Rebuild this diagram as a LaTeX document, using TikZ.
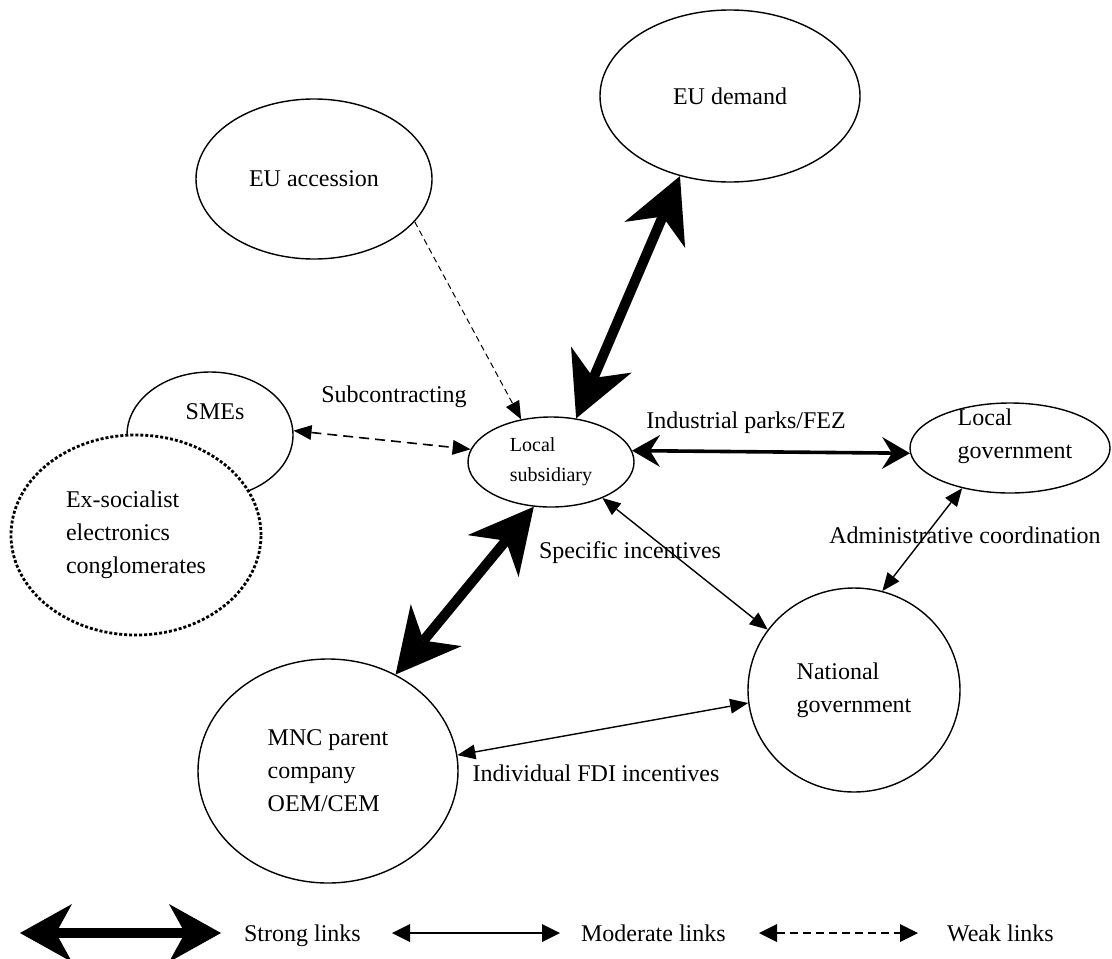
\documentclass[tikz,border=0pt]{standalone}
\usepackage{fontspec}
\setmainfont{Liberation Serif}
\usepackage{tikz}
\usetikzlibrary{arrows.meta, shapes.geometric}

\begin{document}
\begin{tikzpicture}[
        x=0.5pt, y=-0.5pt,
        every node/.style={font=\fontsize{12}{16.5}\selectfont},
        actor/.style={draw, ellipse, line width=0.7pt, inner sep=1pt, align=left},
        small/.style={font=\fontsize{10}{15}\selectfont},
        keytext/.style={anchor=base west},
        bigtip/.tip={Stealth[length=32pt, width=33pt, inset=10pt, line width=0pt]},
        keytip/.tip={Stealth[length=26pt, width=29pt, inset=8pt, line width=0pt]},
        midtip/.tip={Stealth[length=14pt, width=16pt, inset=5pt, line width=0pt]},
        tritip/.tip={Triangle[length=9pt, width=7.5pt, line width=0pt]},
        keytri/.tip={Triangle[length=9pt, width=9pt, line width=0pt]},
        stronglink/.style={line width=5pt, bigtip-bigtip},
        parklink/.style={line width=1.8pt, midtip-midtip},
        modlink/.style={line width=0.7pt, tritip-tritip},
        weaklink/.style={line width=0.8pt, dash pattern=on 5pt off 3pt, tritip-tritip},
      ]
      \useasboundingbox (0,0) rectangle (1112,958);

      % actors
      \node[actor, minimum width=130pt, minimum height=86pt] (eud) at (730,96) {EU demand};
      \node[actor, minimum width=118pt, minimum height=80pt] (eua) at (314,179) {EU accession};
      \node[actor, minimum width=83pt, minimum height=63pt,
            label={[xshift=2.5pt, yshift=11.5pt]center:SMEs}] (sme) at (210,435) {};
      \node[actor, fill=white, line width=1.4pt, dash pattern=on 1.5pt off 1pt,
            minimum width=125pt, minimum height=100pt] (exs) at (136,535)
            {Ex-socialist\\electronics\\conglomerates};
      \node[actor, small, minimum width=83pt, minimum height=45pt] (ls) at (551,462)
            {Local\\subsidiary};
      \node[actor, minimum width=100pt, minimum height=45pt,
            label={[xshift=2.5pt, yshift=6pt, align=left]center:Local\\government}] (lg) at (1010,448) {};
      \node[actor, minimum width=106pt, minimum height=102pt] (ng) at (854,690)
            {National\\government};
      \node[actor, minimum width=130pt, minimum height=112pt] (mnc) at (328,771)
            {MNC parent\\company\\OEM/CEM};

      % links
      \draw[line width=0.5pt, dash pattern=on 3pt off 2pt, -tritip] (eua.-23) -- (ls.125);
      \draw[stronglink] (ls.60) -- (eud.-122);
      \draw[stronglink] (ls.-111) -- (mnc.55);
      \draw[weaklink] (sme.3) -- (ls.171);
      \draw[parklink] (ls.8) -- (lg.183);
      \draw[modlink] (ls.-35) -- (ng.145);
      \draw[modlink] (lg.-140) -- (ng.74);
      \draw[modlink] (mnc.7) -- (ng.187);

      % link labels
      \node (subc) at (394,397) {Subcontracting};
      \node (park) at (746,423) {Industrial parks/FEZ};
      \node (spec) at (630,553) {Specific incentives};
      \node (admin) at (965,535) {Administrative coordination};
      \node (fdi) at (596,773) {Individual FDI incentives};

      % key
      \coordinate (k1a) at (20,933);  \coordinate (k1b) at (221,933);
      \coordinate (k2a) at (392,933); \coordinate (k2b) at (560,933);
      \coordinate (k3a) at (759,933); \coordinate (k3b) at (918,933);
      \draw[line width=5pt, keytip-keytip] (k1a) -- (k1b);
      \draw[line width=1.2pt, keytri-keytri] (k2a) -- (k2b);
      \draw[line width=0.9pt, dash pattern=on 4pt off 2.5pt, keytri-keytri] (k3a) -- (k3b);
      \node[keytext] (k1) at (237,941) {Strong links};
      \node[keytext] (k2) at (574,941) {Moderate links};
      \node[keytext] (k3) at (940,941) {Weak links};
    \end{tikzpicture}
\end{document}
